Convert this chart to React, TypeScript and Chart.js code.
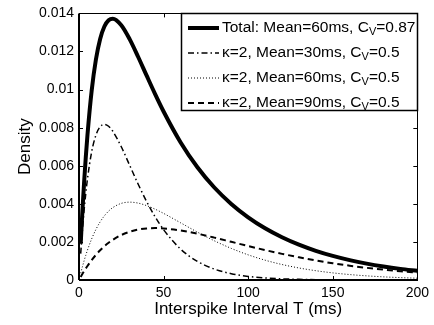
import React, { useEffect, useRef } from "react";
import { Chart, registerables } from "chart.js";

Chart.register(...registerables);

const tValues = [1, 2, 3, 4, 5, 7.5, 10, 12.5, 15, 17.5, 20, 25, 30, 35, 40, 45, 50, 60, 70, 80, 90, 100, 110, 120, 130, 140, 150, 160, 170, 180, 190, 200];

const totalSeries = [0.001905, 0.003601, 0.005106, 0.006438, 0.007612, 0.009947, 0.011578, 0.012659, 0.013314, 0.013644, 0.013724, 0.013381, 0.012638, 0.011712, 0.01073, 0.009763, 0.00885, 0.007238, 0.005921, 0.004857, 0.003996, 0.003294, 0.002718, 0.002247, 0.001856, 0.001533, 0.001265, 0.001044, 0.000861, 0.00071, 0.000585, 0.000482];

const mean30Series = [0.001386, 0.002593, 0.003639, 0.004539, 0.005308, 0.006739, 0.007606, 0.008048, 0.008175, 0.008074, 0.00781, 0.006996, 0.006015, 0.005028, 0.004118, 0.003319, 0.002643, 0.001628, 0.000975, 0.000572, 0.000331, 0.000189, 0.000106, 0.0000596, 0.0000332, 0.0000183, 0.0000101, 0.0000055, 0.000003, 0.0000016, 0.0000009, 0.0000005];

const mean60Series = [0.000358, 0.000693, 0.001005, 0.001297, 0.001568, 0.002163, 0.002654, 0.003052, 0.00337, 0.003617, 0.003803, 0.004024, 0.004088, 0.004037, 0.003905, 0.003719, 0.003498, 0.003007, 0.002514, 0.002059, 0.00166, 0.001321, 0.001041, 0.000814, 0.000632, 0.000488, 0.000374, 0.000286, 0.000218, 0.000165, 0.000125, 0.0000943];

const mean90Series = [0.000161, 0.000315, 0.000462, 0.000602, 0.000736, 0.001045, 0.001318, 0.001559, 0.001769, 0.001953, 0.002111, 0.002361, 0.002535, 0.002647, 0.002707, 0.002725, 0.002709, 0.002603, 0.002432, 0.002226, 0.002005, 0.001784, 0.001571, 0.001373, 0.001191, 0.001027, 0.000881, 0.000752, 0.00064, 0.000543, 0.000459, 0.000387];

// legend label parts: [before subscript, subscript, after subscript]
const legendLabels: [string, string, string][] = [
  ["Total: Mean=60ms, C", "V", "=0.87"],
  ["\u03BA=2, Mean=30ms, C", "V", "=0.5"],
  ["\u03BA=2, Mean=60ms, C", "V", "=0.5"],
  ["\u03BA=2, Mean=90ms, C", "V", "=0.5"],
];

const xTicks = [0, 50, 100, 150, 200];
const yTicks = [0, 0.002, 0.004, 0.006, 0.008, 0.01, 0.012, 0.014];

const FONT = "'Liberation Sans', Arial, Helvetica, sans-serif";

const boxAndTicks = {
  id: "boxAndTicks",
  afterDatasetsDraw(chart: any) {
    const { ctx, chartArea } = chart;
    const { left, right, top, bottom } = chartArea;
    const xs = chart.scales.x;
    const ys = chart.scales.y;
    ctx.save();
    ctx.strokeStyle = "#000";
    ctx.lineWidth = 1;
    ctx.setLineDash([]);
    const tl = 4;
    ctx.beginPath();
    xTicks.forEach((v) => {
      const px = Math.round(xs.getPixelForValue(v)) + 0.5;
      ctx.moveTo(px, bottom);
      ctx.lineTo(px, bottom - tl);
      ctx.moveTo(px, top);
      ctx.lineTo(px, top + tl);
    });
    yTicks.forEach((v) => {
      const py = Math.round(ys.getPixelForValue(v)) + 0.5;
      ctx.moveTo(left, py);
      ctx.lineTo(left + tl, py);
      ctx.moveTo(right, py);
      ctx.lineTo(right - tl, py);
    });
    ctx.stroke();
    ctx.strokeRect(Math.round(left) + 0.5, Math.round(top) + 0.5, Math.round(right - left), Math.round(bottom - top));
    ctx.lineWidth = 2;
    ctx.beginPath();
    ctx.moveTo(left, Math.round(bottom));
    ctx.lineTo(right, Math.round(bottom));
    ctx.moveTo(Math.round(left), top);
    ctx.lineTo(Math.round(left), bottom);
    ctx.stroke();

    // legend
    const bx = 181.5, by = 13.5, bw = 236, bh = 97;
    ctx.fillStyle = "#fff";
    ctx.fillRect(bx, by, bw, bh);
    ctx.lineWidth = 1.5;
    ctx.strokeStyle = "#000";
    ctx.strokeRect(bx, by, bw, bh);
    const rowY = [28, 53, 78, 103];
    chart.data.datasets.forEach((ds: any, i: number) => {
      const y = rowY[i];
      ctx.beginPath();
      ctx.lineWidth = ds.borderWidth;
      ctx.setLineDash(ds.borderDash || []);
      ctx.strokeStyle = ds.borderColor;
      ctx.moveTo(188, y);
      ctx.lineTo(219, y);
      ctx.stroke();
      ctx.setLineDash([]);
      const [a, sub, b] = legendLabels[i];
      ctx.fillStyle = "#000";
      ctx.textBaseline = "middle";
      ctx.textAlign = "left";
      ctx.font = `15.5px ${FONT}`;
      let x = 222;
      ctx.fillText(a, x, y);
      x += ctx.measureText(a).width;
      ctx.font = `11px ${FONT}`;
      ctx.fillText(sub, x, y + 4);
      x += ctx.measureText(sub).width;
      ctx.font = `15.5px ${FONT}`;
      ctx.fillText(b, x, y);
    });
    ctx.restore();
  },
};

export default function App() {
  const ref = useRef<HTMLCanvasElement | null>(null);
  useEffect(() => {
    document.body.style.margin = "0";
    const mk = (arr: number[]) => tValues.map((t, i) => ({ x: t, y: arr[i] }));
    const chart = new Chart(ref.current as HTMLCanvasElement, {
      type: "line",
      data: {
        datasets: [
          { label: "Total", data: mk(totalSeries), borderColor: "#000", borderWidth: 4, borderDash: [], pointRadius: 0, cubicInterpolationMode: "monotone", fill: false },
          { label: "m30", data: mk(mean30Series), borderColor: "#000", borderWidth: 1.5, borderDash: [6, 3, 1.5, 3], pointRadius: 0, cubicInterpolationMode: "monotone", fill: false },
          { label: "m60", data: mk(mean60Series), borderColor: "#000", borderWidth: 1, borderDash: [1, 2], pointRadius: 0, cubicInterpolationMode: "monotone", fill: false },
          { label: "m90", data: mk(mean90Series), borderColor: "#000", borderWidth: 2, borderDash: [6, 4], pointRadius: 0, cubicInterpolationMode: "monotone", fill: false },
        ] as any,
      },
      options: {
        animation: false,
        responsive: false,
        maintainAspectRatio: false,
        layout: { padding: { top: 9, right: 15, left: 0, bottom: 0 } },
        plugins: { legend: { display: false }, tooltip: { enabled: false } },
        scales: {
          x: {
            type: "linear",
            min: 0,
            max: 200,
            grid: { display: false, drawTicks: false },
            border: { display: false },
            ticks: {
              stepSize: 50,
              color: "#000",
              padding: 5,
              maxRotation: 0,
              font: { family: FONT, size: 14 },
              callback: (v: any) => String(v),
            },
            title: {
              display: true,
              text: "Interspike Interval T (ms)",
              color: "#000",
              font: { family: FONT, size: 17 },
              padding: { top: 0, bottom: 5.5 },
            },
            afterFit: (s: any) => { s.height = 45; },
          },
          y: {
            type: "linear",
            min: 0,
            max: 0.014,
            grid: { display: false, drawTicks: false },
            border: { display: false },
            ticks: {
              stepSize: 0.002,
              color: "#000",
              padding: 5,
              font: { family: FONT, size: 14 },
              callback: (v: any) => String(Number(Number(v).toFixed(3))),
            },
            title: {
              display: true,
              text: "Density",
              color: "#000",
              font: { family: FONT, size: 17 },
              padding: { top: 15.5, bottom: 0 },
            },
            afterFit: (s: any) => { s.width = 79; },
          },
        },
      },
      plugins: [boxAndTicks],
    });
    return () => chart.destroy();
  }, []);
  return (
    <div style={{ width: 434, height: 325 }}>
      <canvas ref={ref} width={434} height={325} style={{ display: "block", width: 434, height: 325 }} />
    </div>
  );
}
